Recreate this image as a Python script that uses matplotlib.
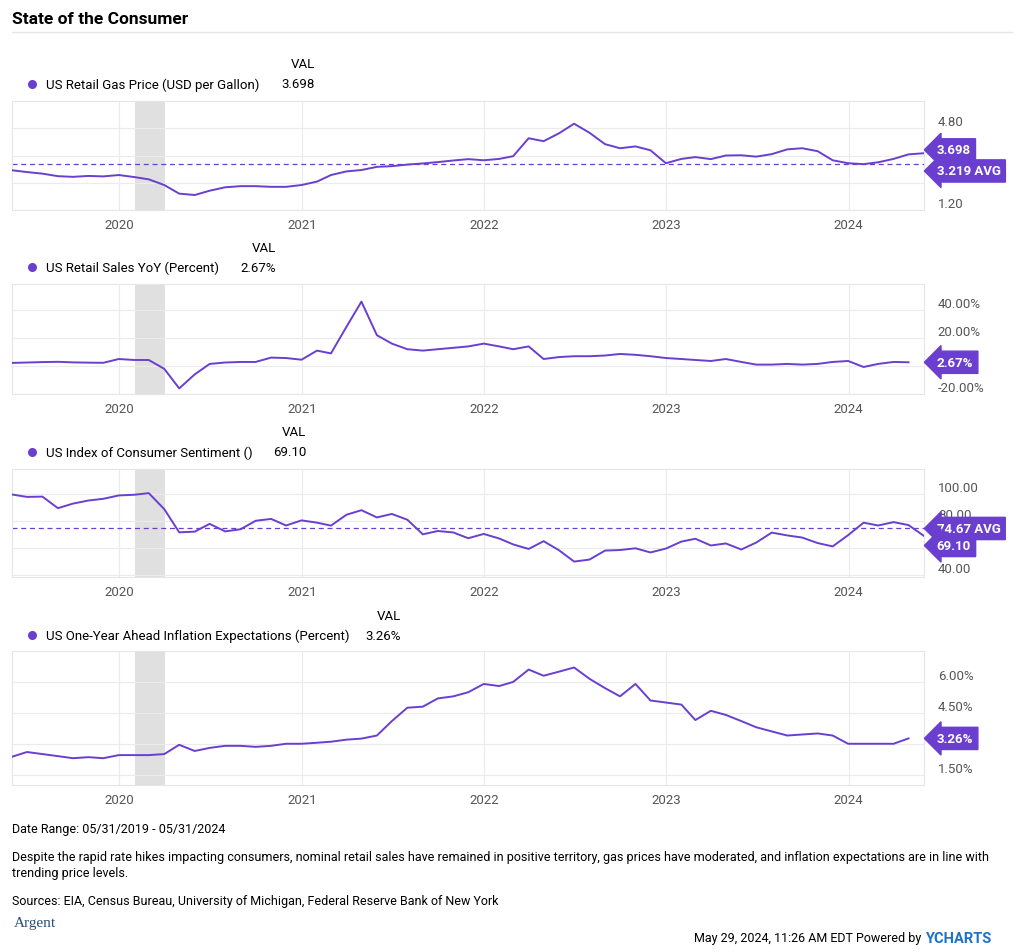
import matplotlib
matplotlib.use("Agg")
import matplotlib.pyplot as plt
import matplotlib.transforms as mtrans
import pandas as pd

plt.rcParams['font.family'] = ['Roboto', 'DejaVu Sans']

dates = pd.date_range("2019-05-31", "2024-05-31", freq="ME")

gas = [2.95, 2.87, 2.80, 2.69, 2.66, 2.70, 2.68, 2.74, 2.65, 2.55, 2.30, 1.92, 1.86,
       2.05, 2.20, 2.25, 2.25, 2.22, 2.22, 2.30, 2.45, 2.74, 2.90, 2.96, 3.10, 3.13,
       3.20, 3.25, 3.31, 3.38, 3.44, 3.39, 3.45, 3.57, 4.36, 4.23, 4.58, 5.00, 4.60,
       4.10, 3.92, 4.00, 3.83, 3.26, 3.45, 3.53, 3.44, 3.60, 3.61, 3.55, 3.66,
       3.87, 3.92, 3.79, 3.39, 3.26, 3.22, 3.30, 3.45, 3.65, 3.70]
gas_avg = 3.219

sales = [2.2, 2.5, 2.8, 3.0, 2.6, 2.4, 2.3, 5.0, 4.3, 4.3, -2.0, -16.0, -6.0,
         1.5, 2.5, 2.9, 2.9, 6.0, 5.7, 4.5, 11.0, 9.0, 28.0, 46.0, 22.0, 16.0,
         12.0, 11.0, 12.0, 13.0, 14.0, 16.0, 14.0, 12.0, 14.0, 5.0, 6.4, 7.0,
         7.0, 7.5, 8.6, 8.0, 7.0, 5.7, 5.0, 4.3, 3.6, 5.0, 2.9, 1.0, 1.0,
         1.5, 1.0, 1.5, 2.9, 3.6, -0.7, 1.5, 2.9, 2.67]

sent = [100.0, 98.2, 98.4, 89.8, 93.2, 95.5, 96.8, 99.3, 99.8, 101.0, 89.1, 71.8,
        72.3, 78.1, 72.5, 74.1, 80.4, 81.8, 76.9, 80.7, 79.0, 76.8, 84.9, 88.3,
        82.9, 85.5, 81.2, 70.3, 72.8, 71.7, 67.4, 70.6, 67.2, 62.8, 59.4, 65.2,
        58.4, 50.0, 51.5, 58.2, 58.6, 59.9, 56.8, 59.7, 64.9, 67.0, 62.0, 63.5,
        59.0, 64.2, 71.6, 69.5, 67.9, 63.8, 61.3, 69.7, 79.0, 76.9, 79.4, 77.2, 69.1]
sent_avg = 74.67

infl = [2.37, 2.6, 2.5, 2.4, 2.3, 2.35, 2.3, 2.45, 2.45, 2.45, 2.5, 2.95, 2.65,
        2.8, 2.9, 2.9, 2.85, 2.9, 3.0, 3.0, 3.05, 3.1, 3.2, 3.25, 3.4, 4.1,
        4.75, 4.8, 5.2, 5.3, 5.5, 5.9, 5.8, 6.0, 6.6, 6.3, 6.5, 6.7, 6.15,
        5.7, 5.3, 5.9, 5.1, 5.0, 4.9, 4.15, 4.6, 4.4, 4.1, 3.8, 3.6, 3.4, 3.45, 3.5,
        3.4, 3.0, 3.0, 3.0, 3.0, 3.26]

PURPLE = "#6a3fd0"
W, H = 1024, 953
fig = plt.figure(figsize=(W/100, H/100), dpi=100)

def fx(px): return px / W
def fy(py): return 1 - py / H

fig.text(fx(12), fy(20), "State of the Consumer", fontsize=12.5, fontweight='bold', va='center')
fig.add_artist(plt.Line2D([fx(12), fx(1012)], [fy(33), fy(33)], color="#e6e6e6", lw=1))

panels = [
    dict(name="US Retail Gas Price (USD per Gallon)", val="3.698", valr=315, top=102, bot=211,
         x=dates[:len(gas)], y=gas, ylim=(1.2, 6.0), ticks=[1.2, 2.4, 3.6, 4.8], labels={4.8: "4.80", 1.2: "1.20"},
         avg=gas_avg, call=[(3.698 + 0.15, "3.698"), (gas_avg - 0.3, "3.219 AVG")], hy=65),
    dict(name="US Retail Sales YoY (Percent)", val="2.67%", valr=276, top=285, bot=395,
         x=dates[:len(sales)], y=sales, ylim=(-20, 58.6), ticks=[-20, 0, 20, 40],
         labels={40: "40.00%", 20: "20.00%", -20: "-20.00%"}, avg=None,
         call=[(2.67, "2.67%")], hy=248),
    dict(name="US Index of Consumer Sentiment ()", val="69.10", valr=306, top=470, bot=578,
         x=dates[:len(sent)], y=sent, ylim=(38.5, 119), ticks=[40, 60, 80, 100],
         labels={100: "100.00", 80: "80.00", 40: "40.00"}, avg=sent_avg,
         call=[(sent_avg, "74.67 AVG"), (62.0, "69.10")], hy=433),
    dict(name="US One-Year Ahead Inflation Expectations (Percent)", val="3.26%", valr=401, top=652, bot=786,
         x=dates[:len(infl)], y=infl, ylim=(1.0, 7.5), ticks=[1.5, 3.0, 4.5, 6.0],
         labels={6.0: "6.00%", 4.5: "4.50%", 1.5: "1.50%"}, avg=None,
         call=[(3.26, "3.26%")], hy=616),
]

for p in panels:
    ax = fig.add_axes([fx(12), fy(p['bot']), fx(924) - fx(12), (p['bot'] - p['top']) / H])
    hy = p['hy']
    fig.text(fx(p['valr']), fy(hy), "VAL", fontsize=9.5, ha='right', va='center')
    fig.text(fx(p['valr']), fy(hy + 20), p['val'], fontsize=9.5, ha='right', va='center')
    fig.text(fx(46), fy(hy + 20), p['name'], fontsize=9.5, va='center')
    fig.add_artist(plt.Line2D([fx(32)], [fy(hy + 20)], marker='o', ms=5.5, color=PURPLE))

    ax.axvspan(pd.Timestamp("2020-02-01"), pd.Timestamp("2020-04-01"), color="#e0e0e0", lw=0, zorder=0)
    ax.plot(p['x'], p['y'], color=PURPLE, lw=1.4, zorder=3)
    if p['avg'] is not None:
        ax.axhline(p['avg'], color=PURPLE, lw=0.9, ls=(0, (4, 3)), zorder=2)
    ax.set_xlim(pd.Timestamp("2019-05-31"), pd.Timestamp("2024-05-31"))
    ax.set_ylim(*p['ylim'])
    ax.set_xticks([pd.Timestamp(f"{y}-01-01") for y in range(2020, 2025)])
    ax.set_xticklabels([str(y) for y in range(2020, 2025)])
    ax.set_yticks(p['ticks'])
    ax.set_yticklabels([p['labels'].get(t, "") for t in p['ticks']])
    ax.yaxis.tick_right()
    ax.tick_params(length=0, labelsize=9.5, colors="#555555", pad=6)
    ax.tick_params(axis='y', pad=10)
    for lab in ax.get_yticklabels():
        lab.set_verticalalignment('bottom')
    ax.grid(True, color="#ebebeb", lw=0.8)
    for s in ax.spines.values():
        s.set_color("#e6e6e6")
    tr = mtrans.blended_transform_factory(ax.transAxes, ax.transData)
    for (ypos, txt) in p['call']:
        ax.text(1.014, ypos, txt, transform=tr, fontsize=9.5, fontweight='bold', color='white',
                va='center', ha='left',
                bbox=dict(boxstyle='larrow,pad=0.35', fc=PURPLE, ec=PURPLE), zorder=5, clip_on=False)

fig.text(fx(12), fy(830), "Date Range: 05/31/2019 - 05/31/2024", fontsize=9, va='center')
fig.text(fx(12), fy(858), "Despite the rapid rate hikes impacting consumers, nominal retail sales have remained in positive territory, gas prices have moderated, and inflation expectations are in line with",
         fontsize=9, va='center')
fig.text(fx(12), fy(874), "trending price levels.", fontsize=9, va='center')
fig.text(fx(12), fy(902), "Sources: EIA, Census Bureau, University of Michigan, Federal Reserve Bank of New York", fontsize=9, va='center')
fig.text(fx(14), fy(924), "Argent", fontsize=11, family='Liberation Serif', color="#2b4f7a", va='center')
fig.text(fx(921), fy(939), "May 29, 2024, 11:26 AM EDT Powered by", fontsize=9, ha='right', va='center')
fig.text(fx(925), fy(939), "YCHARTS", fontsize=10.5, fontweight='bold', color="#1a73c8", ha='left', va='center')

fig.savefig("out.png", dpi=100)
